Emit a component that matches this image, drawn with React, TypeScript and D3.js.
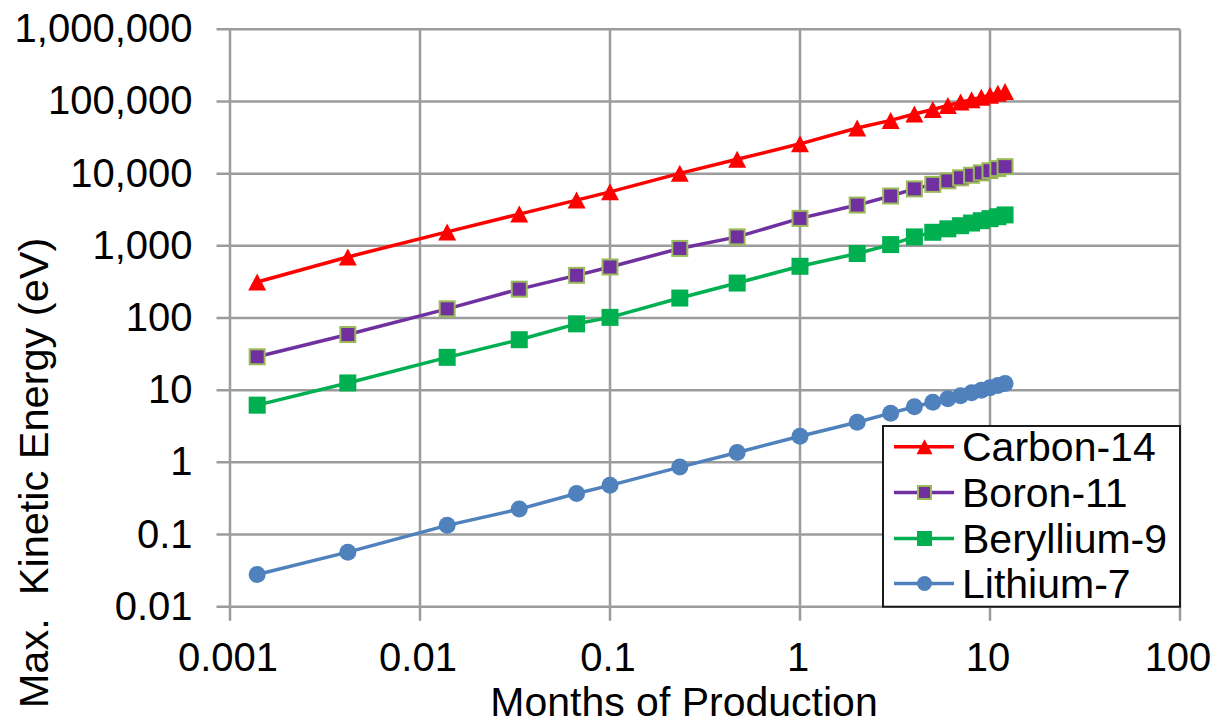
import React from "react";
import * as d3 from "d3";

// Months of production at each sample (1 h, 3 h, 10 h, 1 d, 2 d, 3 d, 1 wk, 2 wk, then 1–12 months)
const months = [
  0.00139, 0.00417, 0.0139, 0.0333, 0.0667, 0.1, 0.233, 0.467,
  1, 2, 3, 4, 5, 6, 7, 8, 9, 10, 11, 12,
];

// Maximum kinetic energy (eV) per isotope
const carbon14 = [
  315, 700, 1560, 2750, 4300, 5600, 10100, 15800,
  25900, 42900, 54700, 67000, 77500, 88000, 98000, 106000, 114000, 122000, 130000, 138000,
];
const boron11 = [
  29, 59, 134, 251, 390, 509, 920, 1330,
  2400, 3670, 4900, 6150, 7100, 7950, 8750, 9500, 10250, 11000, 11750, 12500,
];
const beryllium9 = [
  6.2, 12.6, 28.5, 50, 83, 102, 189, 305,
  521, 782, 1040, 1330, 1540, 1720, 1900, 2070, 2230, 2380, 2530, 2680,
];
const lithium7 = [
  0.028, 0.057, 0.134, 0.225, 0.37, 0.48, 0.86, 1.37,
  2.3, 3.6, 4.8, 5.9, 6.8, 7.6, 8.4, 9.2, 10.0, 10.8, 11.6, 12.4,
];

const seriesNames = ["Carbon-14", "Boron-11", "Beryllium-9", "Lithium-7"];

const xTickValues = [0.001, 0.01, 0.1, 1, 10, 100];
const xTickLabels = ["0.001", "0.01", "0.1", "1", "10", "100"];
const yTickValues = [1e6, 1e5, 1e4, 1e3, 100, 10, 1, 0.1, 0.01];
const yTickLabels = ["1,000,000", "100,000", "10,000", "1,000", "100", "10", "1", "0.1", "0.01"];

const W = 1217;
const H = 725;
const plot = { left: 230, right: 1180, top: 29.3, bottom: 606.7 };
const FONT = "'Liberation Sans', Arial, sans-serif";
const GRID = "#9c9c9c";

type Marker = "triangle" | "square" | "circle";
interface SeriesStyle {
  name: string;
  values: number[];
  color: string;
  marker: Marker;
  markerStroke?: string;
}

const series: SeriesStyle[] = [
  { name: seriesNames[3], values: lithium7, color: "#4F81BD", marker: "circle" },
  { name: seriesNames[2], values: beryllium9, color: "#00B050", marker: "square" },
  { name: seriesNames[1], values: boron11, color: "#7030A0", marker: "square", markerStroke: "#9BBB59" },
  { name: seriesNames[0], values: carbon14, color: "#FF0000", marker: "triangle" },
];

function markerEl(kind: Marker, cx: number, cy: number, size: number, fill: string, stroke: string | undefined, key: string | number) {
  if (kind === "triangle") {
    const w = size + 1;
    const h = size;
    const d = `M${cx},${cy - h / 2}L${cx + w / 2},${cy + h / 2}L${cx - w / 2},${cy + h / 2}Z`;
    return <path key={key} d={d} fill={fill} />;
  }
  if (kind === "square") {
    const s = stroke ? size - 2 : size;
    return (
      <rect
        key={key}
        x={cx - s / 2}
        y={cy - s / 2}
        width={s}
        height={s}
        fill={fill}
        stroke={stroke ?? "none"}
        strokeWidth={stroke ? 2 : 0}
      />
    );
  }
  return <circle key={key} cx={cx} cy={cy} r={size / 2} fill={fill} />;
}

export default function App() {
  const x = d3.scaleLog().domain([0.001, 100]).range([plot.left, plot.right]);
  const y = d3.scaleLog().domain([0.01, 1e6]).range([plot.bottom, plot.top]);

  const line = d3
    .line<[number, number]>()
    .x((d) => x(d[0]))
    .y((d) => y(d[1]));

  // Legend box anchored to the plot's lower-right corner
  const legend = { left: 883, top: 426, right: plot.right, bottom: plot.bottom };
  const legendRows = [446.7, 492.5, 538.5, 583.5];
  const legendOrder = [3, 2, 1, 0]; // indices into `series`: Carbon, Boron, Beryllium, Lithium

  return (
    <svg
      width={W}
      height={H}
      style={{ position: "absolute", left: 0, top: 0, background: "#fff" }}
      fontFamily={FONT}
    >
      <rect x={0} y={0} width={W} height={H} fill="#fff" />

      {/* gridlines */}
      {xTickValues.map((v) => (
        <line key={"gx" + v} x1={x(v)} x2={x(v)} y1={plot.top} y2={plot.bottom + 14} stroke={GRID} strokeWidth={2.5} />
      ))}
      {yTickValues.map((v) => (
        <line key={"gy" + v} x1={plot.left - 13.5} x2={plot.right} y1={y(v)} y2={y(v)} stroke={GRID} strokeWidth={2.5} />
      ))}

      {/* tick labels */}
      {yTickValues.map((v, i) => (
        <text key={"ty" + v} x={192.5} y={y(v) + 13} fontSize={40} textAnchor="end" fill="#000">
          {yTickLabels[i]}
        </text>
      ))}
      {xTickValues.map((v, i) => (
        <text key={"tx" + v} x={x(v) - 2} y={671} fontSize={40} textAnchor="middle" fill="#000">
          {xTickLabels[i]}
        </text>
      ))}

      {/* axis titles */}
      <text x={684} y={716} fontSize={41} textAnchor="middle" fill="#000">
        Months of Production
      </text>
      <text transform="translate(48,473) rotate(-90)" fontSize={41.5} textAnchor="middle" fill="#000" style={{ whiteSpace: "pre" }}>
        {"Max.  Kinetic Energy (eV)"}
      </text>

      {/* series */}
      {series.map((s) => {
        const pts = months.map((m, i) => [m, s.values[i]] as [number, number]);
        return (
          <g key={s.name}>
            <path d={line(pts) ?? ""} fill="none" stroke={s.color} strokeWidth={3.5} strokeLinejoin="round" />
            {pts.map((p, i) => markerEl(s.marker, x(p[0]), y(p[1]), 17, s.color, s.markerStroke, i))}
          </g>
        );
      })}

      {/* legend */}
      <rect
        x={legend.left}
        y={legend.top}
        width={legend.right - legend.left}
        height={legend.bottom - legend.top}
        fill="#fff"
        stroke="#1a1a1a"
        strokeWidth={2}
      />
      {legendOrder.map((si, r) => {
        const s = series[si];
        const cy = legendRows[r];
        return (
          <g key={"lg" + s.name}>
            <line x1={894} x2={954} y1={cy} y2={cy} stroke={s.color} strokeWidth={3.5} />
            {markerEl(s.marker, 924.5, cy, 15, s.color, s.markerStroke, "m")}
            <text x={962} y={cy + 14.5} fontSize={41} fill="#000">
              {s.name}
            </text>
          </g>
        );
      })}
    </svg>
  );
}
